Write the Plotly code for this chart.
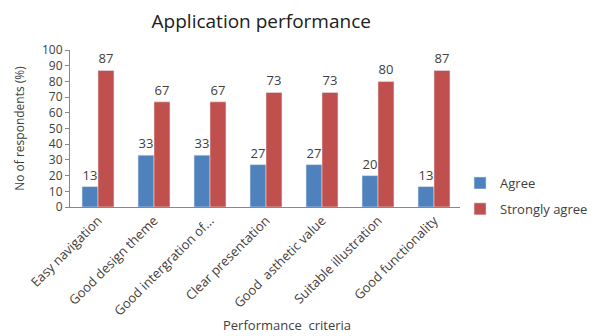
import plotly.graph_objects as go

categories = ["Easy navigation", "Good design theme", "Good intergration of...",
              "Clear presentation", "Good  asthetic value", "Suitable illustration",
              "Good functionality"]
agree = [13, 33, 33, 27, 27, 20, 13]
strongly_agree = [87, 67, 67, 73, 73, 80, 87]
y_ticks = [0, 10, 20, 30, 40, 50, 60, 70, 80, 90, 100]

font_family = "Open Sans, DejaVu Sans, sans-serif"

fig = go.Figure()
fig.add_trace(go.Bar(x=categories, y=agree, name="Agree", marker_color="#4F81BD",
                     legendgroup="a",
                     text=agree, textposition="outside", cliponaxis=False,
                     textfont=dict(size=13, color="#404040")))
fig.add_trace(go.Bar(x=categories, y=strongly_agree, name="Strongly agree", marker_color="#C0504D",
                     legendgroup="b",
                     text=strongly_agree, textposition="outside", cliponaxis=False,
                     textfont=dict(size=13, color="#404040")))

fig.update_layout(
    width=609, height=336,
    margin=dict(l=70, r=147, t=50, b=129),
    paper_bgcolor="white", plot_bgcolor="white",
    font=dict(family=font_family, size=13, color="#404040"),
    title=dict(text="Application performance", x=0.429, xanchor="center", y=0.935, yanchor="middle",
               font=dict(size=19, color="#202020")),
    barmode="group", bargap=0.43, bargroupgap=0,
    showlegend=True,
    legend=dict(x=0.995, y=0.07, xanchor="left", yanchor="middle",
                font=dict(size=13), itemwidth=30, traceorder="grouped", tracegroupgap=6),
    xaxis=dict(tickangle=-45, showline=True, linecolor="#888888", linewidth=1,
               ticks="", tickfont=dict(size=13)),
    yaxis=dict(range=[0, 100], tickvals=y_ticks, showgrid=False, showline=True,
               linecolor="#888888", linewidth=1, ticks="outside", ticklen=4,
               tickcolor="#888888", tickfont=dict(size=12), zeroline=False,
               title=dict(text="No of respondents (%)", font=dict(size=12), standoff=14)),
    annotations=[dict(text="Performance  criteria", xref="paper", yref="paper",
                      x=0.553, y=-0.75, xanchor="center", yanchor="middle",
                      showarrow=False, font=dict(size=13, color="#404040"))],
)

fig.write_html("out.html")
